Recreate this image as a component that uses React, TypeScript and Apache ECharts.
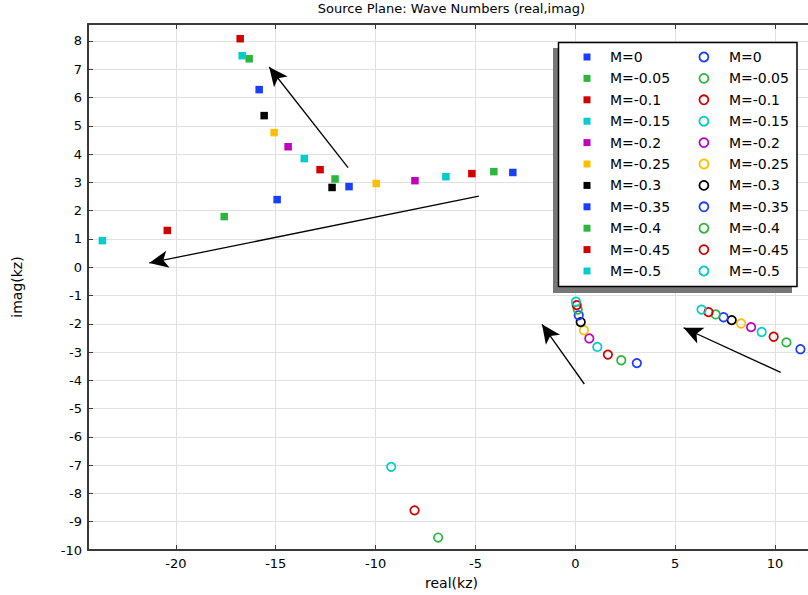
import React, { useEffect, useRef } from "react";
import * as echarts from "echarts";

const mLabels = ["M=0", "M=-0.05", "M=-0.1", "M=-0.15", "M=-0.2", "M=-0.25", "M=-0.3", "M=-0.35", "M=-0.4", "M=-0.45", "M=-0.5"];
const colors = ["#1a3dff", "#2cb63e", "#d20000", "#00cccc", "#bf00bf", "#ffbf00", "#000000", "#1a3dff", "#2cb63e", "#d20000", "#00cccc"];

// square markers: two branches
const sqUpperRe = [-11.33, -12.03, -12.78, -13.57, -14.38, -15.08, -15.58, -15.83, -16.33, -16.78, -16.68];
const sqUpperIm = [2.85, 3.12, 3.45, 3.84, 4.26, 4.76, 5.36, 6.28, 7.37, 8.08, 7.48];
const sqLowerRe = [-3.13, -4.08, -5.18, -6.48, -8.03, -9.97, -12.18, -14.93, -17.58, -20.43, -23.68];
const sqLowerIm = [3.35, 3.38, 3.31, 3.2, 3.06, 2.96, 2.82, 2.39, 1.79, 1.3, 0.94];

// circle markers: three branches
const ciLeftRe = [3.08, 2.3, 1.63, 1.1, 0.7, 0.43, 0.27, 0.17, 0.12, 0.07, 0.03];
const ciLeftIm = [-3.39, -3.29, -3.09, -2.82, -2.52, -2.23, -1.94, -1.7, -1.5, -1.34, -1.22];
const ciRightRe = [11.27, 10.57, 9.93, 9.33, 8.8, 8.3, 7.83, 7.42, 7.03, 6.67, 6.32];
const ciRightIm = [-2.9, -2.66, -2.46, -2.29, -2.12, -1.99, -1.87, -1.77, -1.67, -1.59, -1.5];
const ciLowRe: (number | null)[] = [null, null, null, null, null, null, null, null, -6.87, -8.05, -9.22];
const ciLowIm: (number | null)[] = [null, null, null, null, null, null, null, null, -9.56, -8.6, -7.06];

// annotation arrows: tail -> tip
const arrowTail = [[-11.38, 3.52], [-4.83, 2.51], [0.45, -4.13], [10.28, -3.72]];
const arrowTip = [[-15.33, 7.08], [-21.33, 0.15], [-1.67, -2.02], [5.42, -2.14]];

const FONT = "DejaVu Sans";

export default function App() {
  const ref = useRef<HTMLDivElement>(null);
  useEffect(() => {
    if (!ref.current) return;
    const chart = echarts.init(ref.current, undefined, { renderer: "svg" });

    const squareSeries = mLabels.map((name, i) => ({
      type: "scatter",
      name,
      symbol: "rect",
      symbolSize: 7.5,
      itemStyle: { color: colors[i], opacity: 1 },
      emphasis: { disabled: true },
      data: [[sqUpperRe[i], sqUpperIm[i]], [sqLowerRe[i], sqLowerIm[i]]],
      z: 3,
      ...(i === 0
        ? {
            markLine: {
              silent: true,
              animation: false,
              symbol: ["none", "arrow"],
              symbolSize: [13, 19],
              label: { show: false },
              lineStyle: { color: "#000", width: 1.3, type: "solid" },
              emphasis: { disabled: true },
              data: arrowTail.map((t, k) => [{ coord: t }, { coord: arrowTip[k] }]),
            },
          }
        : {}),
    }));

    const circleSeries = mLabels.map((name, i) => {
      const pts: number[][] = [[ciLeftRe[i], ciLeftIm[i]], [ciRightRe[i], ciRightIm[i]]];
      if (ciLowRe[i] !== null) pts.push([ciLowRe[i] as number, ciLowIm[i] as number]);
      return {
        type: "scatter",
        name: name + " ",
        symbol: "circle",
        symbolSize: 8.5,
        itemStyle: { color: "rgba(255,255,255,0)", borderColor: colors[i], borderWidth: 1.7, opacity: 1 },
        emphasis: { disabled: true },
        data: pts,
        z: 3,
      };
    });

    const legendText = { fontFamily: FONT, fontSize: 14, color: "#000", lineHeight: 16 };

    const axisLineStyle = { color: "#3a3a3a", width: 2 };
    const tickStyle = { show: true, inside: true, length: 5, lineStyle: { color: "#3a3a3a", width: 1 } };

    chart.setOption({
      animation: false,
      backgroundColor: "#fff",
      title: {
        text: "Source Plane: Wave Numbers (real,imag)",
        left: "center",
        top: -3,
        textStyle: { fontFamily: FONT, fontSize: 13, fontWeight: "normal", color: "#000" },
      },
      grid: { left: 88, right: 88, top: 24, bottom: 44, containLabel: false },
      graphic: [
        { type: "rect", z: 10, silent: true, shape: { x: 553, y: 48, width: 239, height: 245 }, style: { fill: "#777" } },
        {
          type: "rect",
          z: 11,
          silent: true,
          shape: { x: 558.5, y: 42.5, width: 238.5, height: 244 },
          style: { fill: "#fff", stroke: "#000", lineWidth: 1.5 },
        },
      ],
      legend: [
        {
          orient: "vertical",
          z: 20,
          left: 583.5,
          top: 49,
          padding: 0,
          itemWidth: 7,
          itemHeight: 7,
          itemGap: 5.4,
          formatter: (n: string) => n.trim(),
          textStyle: { ...legendText, padding: [0, 0, 0, 14.5] },
          data: mLabels.map((n, i) => ({ name: n, icon: "rect", itemStyle: { color: colors[i], borderWidth: 0 } })),
        },
        {
          orient: "vertical",
          z: 20,
          left: 698.5,
          top: 49,
          padding: 0,
          itemWidth: 9,
          itemHeight: 9,
          itemGap: 5.4,
          formatter: (n: string) => n.trim(),
          textStyle: { ...legendText, padding: [0, 0, 0, 15.5] },
          data: mLabels.map((n, i) => ({
            name: n + " ",
            icon: "circle",
            itemStyle: { color: "#fff", borderColor: colors[i], borderWidth: 1.8 },
          })),
        },
      ],
      xAxis: [
        {
          type: "value",
          min: -24.4,
          max: 12,
          splitNumber: 7,
          name: "real(kz)",
          nameLocation: "middle",
          nameGap: 26,
          nameTextStyle: { fontFamily: FONT, fontSize: 14, color: "#000" },
          axisLine: { show: true, onZero: false, lineStyle: axisLineStyle },
          axisTick: tickStyle,
          axisLabel: {
            fontFamily: FONT,
            fontSize: 13,
            color: "#000",
            margin: 7,
            formatter: (v: number) => (Math.abs(v % 5) < 1e-6 ? String(Math.round(v)) : ""),
          },
          splitLine: { show: true, lineStyle: { color: "#e0e0e0", width: 1 } },
        },
        {
          type: "value",
          position: "top",
          min: -24.4,
          max: 12,
          splitNumber: 7,
          axisLine: { show: true, onZero: false, lineStyle: axisLineStyle },
          axisTick: tickStyle,
          axisLabel: { show: false },
          splitLine: { show: false },
        },
      ],
      yAxis: [
        {
          type: "value",
          min: -10,
          max: 8.6,
          interval: 1,
          name: "imag(kz)",
          nameLocation: "middle",
          nameGap: 64,
          nameTextStyle: { fontFamily: FONT, fontSize: 14, color: "#000" },
          axisLine: { show: true, onZero: false, lineStyle: axisLineStyle },
          axisTick: tickStyle,
          axisLabel: {
            fontFamily: FONT,
            fontSize: 13,
            color: "#000",
            margin: 6,
            formatter: (v: number) => (Math.abs(v - Math.round(v)) < 1e-6 ? String(Math.round(v)) : ""),
          },
          splitLine: { show: true, lineStyle: { color: "#e0e0e0", width: 1 } },
        },
        {
          type: "value",
          position: "right",
          min: -10,
          max: 8.6,
          interval: 1,
          axisLine: { show: true, onZero: false, lineStyle: axisLineStyle },
          axisTick: tickStyle,
          axisLabel: { show: false },
          splitLine: { show: false },
        },
      ],
      series: [...squareSeries, ...circleSeries],
    });
    return () => chart.dispose();
  }, []);

  return (
    <div style={{ position: "fixed", left: 0, top: 0, width: 808, height: 595, overflow: "hidden", background: "#fff" }}>
      <div ref={ref} style={{ width: 903, height: 595 }} />
    </div>
  );
}
